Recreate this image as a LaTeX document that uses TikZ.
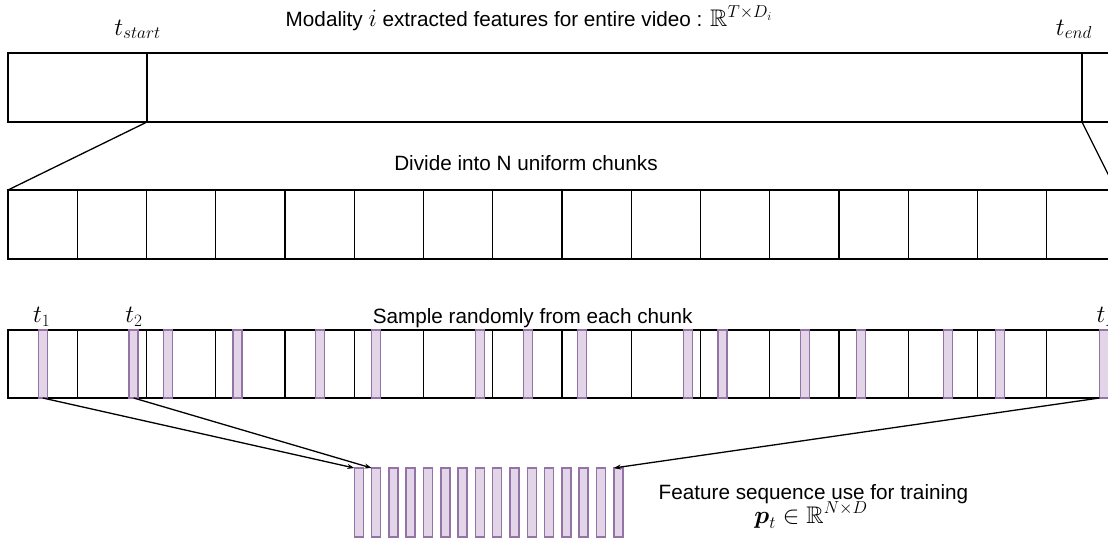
\documentclass[tikz,border=0pt]{standalone}
\usepackage{amsmath}
\usepackage{amssymb}
\usepackage{fontspec}
\setmainfont{Liberation Sans}
\usetikzlibrary{arrows.meta}
\definecolor{pfill}{HTML}{E1D5E7}
\definecolor{pdraw}{HTML}{9673A6}
\newcommand{\mth}[1]{{\fontsize{24}{28}\selectfont$#1$}}
\begin{document}
\begin{tikzpicture}[x=1pt,y=-1pt,
  box/.style={draw=black,line width=1.3pt,inner sep=0pt,outer sep=0pt,anchor=north west,minimum height=69pt},
  chunk/.style={box,minimum width=69.25pt},
  sbar/.style={draw=pdraw,fill=pfill,line width=1.5pt,inner sep=0pt,outer sep=0pt,minimum width=9pt,minimum height=68pt,anchor=north},
  lbl/.style={inner sep=0pt,anchor=base,font=\fontsize{20.7}{24}\selectfont},
  mlbl/.style={inner sep=0pt,anchor=base,font=\fontsize{24}{28}\selectfont},
  link/.style={line width=1.3pt},
  arr/.style={line width=1.3pt,-{Stealth[length=7pt,width=5pt]}}
]
\useasboundingbox (0,0) rectangle (1108,538);
\clip (0,0) rectangle (1108,538);
% top row
\node[box,minimum width=139pt] (tl) at (8,53) {};
\node[box,minimum width=935pt] (tm) at (147,53) {};
\node[box,minimum width=80pt] (tr) at (1082,53) {};
% chunk row
\foreach \i in {1,...,16}
  \node[chunk] (c\i) at ({8+(\i-1)*69.25},190) {};
% sample row
\foreach \i in {1,...,16}
  \node[chunk,minimum height=68pt] (s\i) at ({8+(\i-1)*69.25},330) {};
\foreach \i/\x in {1/42.8,2/133.7,3/168,4/237.5,5/320,6/376,7/480,8/528,9/582,10/688,11/722.5,12/805,13/861,14/948,15/1000,16/1104}
  \node[sbar] (b\i) at (\x,330) {};
% output bars
\foreach \i in {1,...,16}
  \node[sbar,minimum height=69pt] (o\i) at ({358.8+(\i-1)*17.3},468) {};
% connectors
\draw[link] (tm.south west) -- (c1.north west);
\draw[link] (tm.south east) -- (c16.north east);
\draw[arr] (b1.south) -- (o1.north west);
\draw[arr] (b2.south) -- (o2.north west);
\draw[arr] (b16.south west) -- (o16.north west);
% labels
\node[lbl] (title) at (529,26.7) {Modality \mth{i} extracted features for entire video : \mth{\mathbb{R}^{T\times D_i}}};
\node[mlbl] (ts) at (137.5,35) {$t_{start}$};
\node[mlbl] (te) at (1074,35) {$t_{end}$};
\node[lbl] (div) at (526,170.7) {Divide into N uniform chunks};
\node[lbl] (samp) at (532.7,323.3) {Sample randomly from each chunk};
\node[mlbl] (t1) at (41.7,322.5) {$t_1$};
\node[mlbl] (t2) at (134,322.5) {$t_2$};
\node[mlbl] (tN) at (1109,322.5) {$t_N$};
\node[lbl] (feat) at (813.5,499) {Feature sequence use for training};
\node[mlbl] (pt) at (811,523) {$\boldsymbol{p}_t\in\mathbb{R}^{N\times D}$};
\end{tikzpicture}
\end{document}
